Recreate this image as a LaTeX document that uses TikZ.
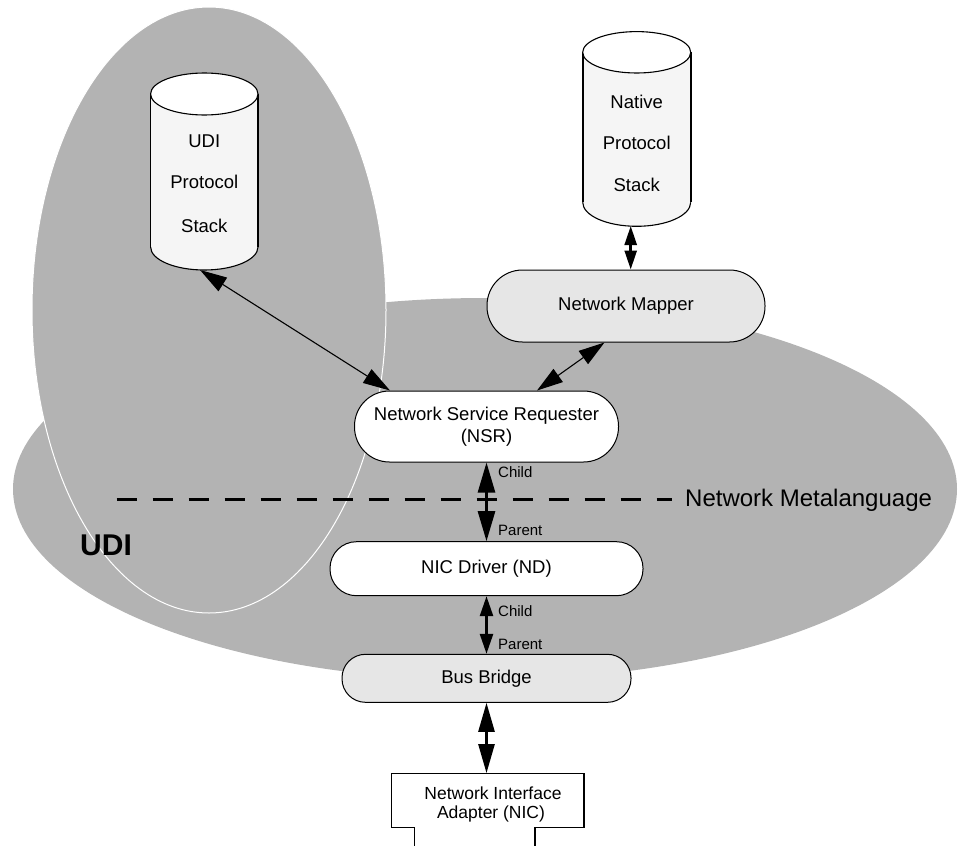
\documentclass[tikz,border=0pt]{standalone}
\usepackage{fontspec}
\setmainfont{Liberation Sans}
\usetikzlibrary{arrows.meta}
\definecolor{regiongray}{HTML}{B3B3B3}
\definecolor{boxgray}{HTML}{E6E6E6}
\definecolor{stackbody}{HTML}{F5F5F5}
\begin{document}
\begin{tikzpicture}[x=1pt,y=-1pt,
  every node/.style={font=\fontsize{18.5}{22}\selectfont, inner sep=0pt},
  pill/.style={draw=black, line width=1pt, align=center},
  thinlink/.style={line width=1.1pt},
  thicklink/.style={line width=2.6pt},
  tag/.style={anchor=west, font=\fontsize{15}{17}\selectfont},
  cylside/.style={line width=1.6pt},
  cyltop/.style={line width=1.1pt, fill=white}
]
\useasboundingbox (0,0) rectangle (959,846);

% domain regions
\fill[regiongray] (485,489) ellipse[x radius=472, y radius=191];
\draw[white, line width=1pt, fill=regiongray] (209,310) ellipse[x radius=177, y radius=303];

% metalanguage boundary
\draw[line width=3pt, dash pattern=on 20pt off 16pt] (116.7,499) -- (672,499);
\node[anchor=west, font=\fontsize{24}{28}\selectfont] (metalang) at (685,500) {Network Metalanguage};
\node[anchor=west, font=\fontsize{30}{34}\selectfont\bfseries] (udilabel) at (80,545) {UDI};

% UDI protocol stack
\fill[stackbody] (150.6,94) -- (150.6,247) arc[start angle=180, end angle=0, x radius=53.7, y radius=23] -- (258,94) -- cycle;
\draw[line width=1.1pt] (150.6,247) arc[start angle=180, end angle=0, x radius=53.7, y radius=23];
\draw[cylside] (150.6,94) -- (150.6,247) (258,94) -- (258,247);
\draw[cyltop] (204.3,94) ellipse[x radius=53.7, y radius=21];
\node (udi1) at (204.3,141.7) {UDI};
\node (udi2) at (204.3,181.7) {Protocol};
\node (udi3) at (204.3,225.7) {Stack};
\coordinate (udi-base) at (200,270);

% native protocol stack
\fill[stackbody] (582.7,52.3) -- (582.7,202.3) arc[start angle=180, end angle=0, x radius=54, y radius=24] -- (690.7,52.3) -- cycle;
\draw[line width=1.1pt] (582.7,202.3) arc[start angle=180, end angle=0, x radius=54, y radius=24];
\draw[cylside] (582.7,52.3) -- (582.7,202.3) (690.7,52.3) -- (690.7,202.3);
\draw[cyltop] (636.7,52.3) ellipse[x radius=54, y radius=20.7];
\node (nat1) at (636.7,102) {Native};
\node (nat2) at (636.7,143) {Protocol};
\node (nat3) at (636.7,185) {Stack};
\coordinate (native-base) at (630.7,226);

% components
\node[pill, fill=boxgray, minimum width=278pt, minimum height=72pt, rounded corners=35.5pt] (mapper) at (626,306) {Network Mapper};
\node[pill, fill=white, minimum width=264pt, minimum height=71pt, rounded corners=35pt] (nsr) at (486.5,426.5) {Network Service Requester\\(NSR)};
\node[pill, fill=white, minimum width=313pt, minimum height=54pt, rounded corners=26.5pt] (nd) at (486.5,568.7) {NIC Driver (ND)};
\node[pill, fill=boxgray, minimum width=289pt, minimum height=48pt, rounded corners=23.5pt] (bb) at (486.5,678.3) {Bus Bridge};

% network interface adapter card
\draw[line width=1.5pt, fill=white] (414.3,850) -- (414.3,827.3) -- (391.7,827.3) -- (391.7,773.3) -- (584,773.3) -- (584,827.3) -- (535,827.3) -- (535,850);
\node[minimum width=192pt, minimum height=54pt] (nic) at (486.5,800.3) {};
\node[anchor=base, font=\fontsize{17.5}{20}\selectfont] (nic1) at (493,799.5) {Network Interface};
\node[anchor=base, font=\fontsize{17.5}{20}\selectfont] (nic2) at (491,818.5) {Adapter (NIC)};

% connectors
\draw[thinlink, {Triangle[length=27pt,width=16pt]}-{Triangle[length=27pt,width=16pt]}] (udi-base) -- ([xshift=36pt]nsr.north west);
\draw[thicklink, {Triangle[length=19pt,width=12pt]}-{Triangle[length=19pt,width=12pt]}] (native-base) -- (native-base |- mapper.north);
\draw[thinlink, {Triangle[length=26pt,width=16pt]}-{Triangle[length=26pt,width=16pt]}] ([xshift=118pt]mapper.south west) -- ([xshift=183pt]nsr.north west);
\draw[thicklink, {Triangle[length=30pt,width=17pt]}-{Triangle[length=30pt,width=17pt]}] (nsr.south) -- (nd.north);
\draw[thicklink, {Triangle[length=20pt,width=13pt]}-{Triangle[length=20pt,width=13pt]}] (nd.south) -- (bb.north);
\draw[thicklink, {Triangle[length=29pt,width=16pt]}-{Triangle[length=29pt,width=16pt]}] (bb.south) -- (nic.north);

% relationship tags
\node[tag] (c1) at (498,471.7) {Child};
\node[tag] (p1) at (498,530) {Parent};
\node[tag] (c2) at (498,610.7) {Child};
\node[tag] (p2) at (498,644.7) {Parent};
\end{tikzpicture}
\end{document}
